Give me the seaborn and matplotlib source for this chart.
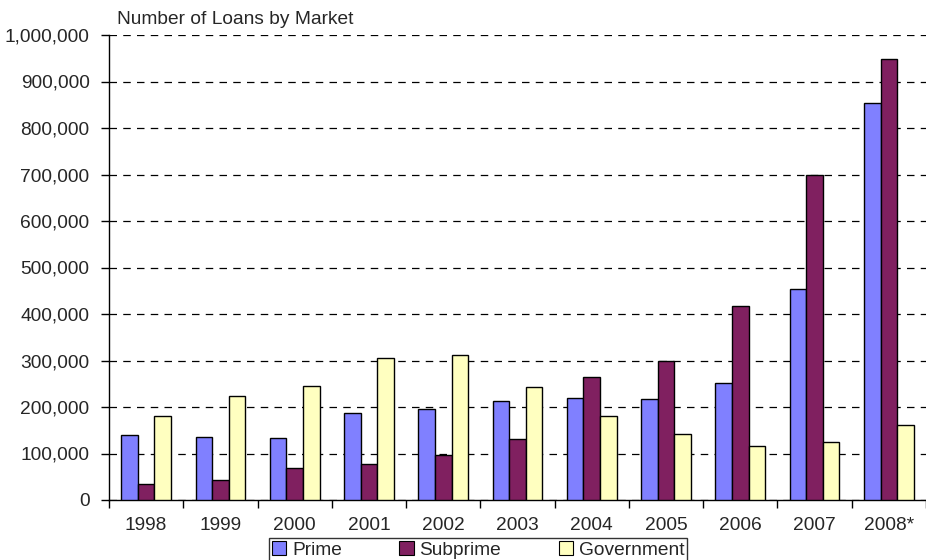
"""Number of loans by market, 1998-2008 (grouped bars)."""

import matplotlib
matplotlib.use("Agg")
import matplotlib.pyplot as plt
from matplotlib.ticker import FuncFormatter, MultipleLocator, FixedLocator
import pandas as pd
import seaborn as sns

YEARS = ["1998", "1999", "2000", "2001", "2002", "2003", "2004", "2005", "2006", "2007", "2008*"]
PRIME = [140000, 136000, 134000, 188000, 195000, 213000, 220000, 218000, 251000, 454000, 854000]
SUBPRIME = [34000, 42000, 68000, 77000, 97000, 131000, 265000, 300000, 417000, 700000, 949000]
GOVERNMENT = [181000, 224000, 245000, 305000, 312000, 243000, 181000, 142000, 116000, 125000, 162000]

MARKETS = ["Prime", "Subprime", "Government"]
COLORS = ["#8080FF", "#802060", "#FFFFC0"]

sns.set_style("white")
plt.rcParams["font.family"] = ["Liberation Sans", "DejaVu Sans"]
FS = 13.8

rows = []
for name, vals in zip(MARKETS, [PRIME, SUBPRIME, GOVERNMENT]):
    for year, v in zip(YEARS, vals):
        rows.append({"Year": year, "Market": name, "Loans": v})
df = pd.DataFrame(rows)

fig = plt.figure(figsize=(9.26, 5.6), dpi=100)
ax = fig.add_axes([109 / 926, 1 - 500 / 560, 1 - 109 / 926, 465 / 560])

sns.barplot(
    data=df, x="Year", y="Loans", hue="Market",
    order=YEARS, hue_order=MARKETS, palette=COLORS,
    width=0.67, edgecolor="black", linewidth=1.0,
    saturation=1, ax=ax, legend=False, zorder=3,
)

ax.set_xlim(-0.5, len(YEARS) - 0.5)
ax.set_ylim(0, 1_000_000)
ax.yaxis.set_major_locator(MultipleLocator(100_000))
ax.yaxis.set_major_formatter(FuncFormatter(lambda v, _: f"{int(v):,}"))
ax.grid(axis="y", color="black", linestyle=(0, (6, 5)), linewidth=0.9, zorder=0)
ax.grid(axis="x", visible=False)

# tick marks between categories, labels centred under the groups
ax.xaxis.set_minor_locator(FixedLocator([i - 0.5 for i in range(len(YEARS) + 1)]))
ax.tick_params(axis="x", which="major", length=0, pad=12, labelsize=FS)
ax.tick_params(axis="x", which="minor", direction="out", length=6, width=1, color="black", bottom=True)
ax.tick_params(axis="y", direction="out", length=6, width=1, color="black", left=True, pad=8, labelsize=FS)
ax.set_xlabel("")
ax.set_ylabel("")

for side in ["top", "right"]:
    ax.spines[side].set_visible(False)
for side in ["left", "bottom"]:
    ax.spines[side].set_color("black")
    ax.spines[side].set_linewidth(1.0)

fig.text(117 / 926, 1 - 20 / 560, "Number of Loans by Market", fontsize=FS, va="center", ha="left")

handles = [plt.Rectangle((0, 0), 1, 1, facecolor=c, edgecolor="black", linewidth=0.8) for c in COLORS]
leg = fig.legend(
    handles, MARKETS, loc="upper center", bbox_to_anchor=(478 / 926, 1 - 538 / 560),
    ncol=3, fontsize=FS, frameon=True, fancybox=False, handlelength=0.75, handleheight=0.75,
    handletextpad=0.3, columnspacing=3.0, borderpad=0.15, borderaxespad=0,
)
leg.get_frame().set_edgecolor("black")
leg.get_frame().set_linewidth(1.0)

fig.savefig("out.png", dpi=100)
